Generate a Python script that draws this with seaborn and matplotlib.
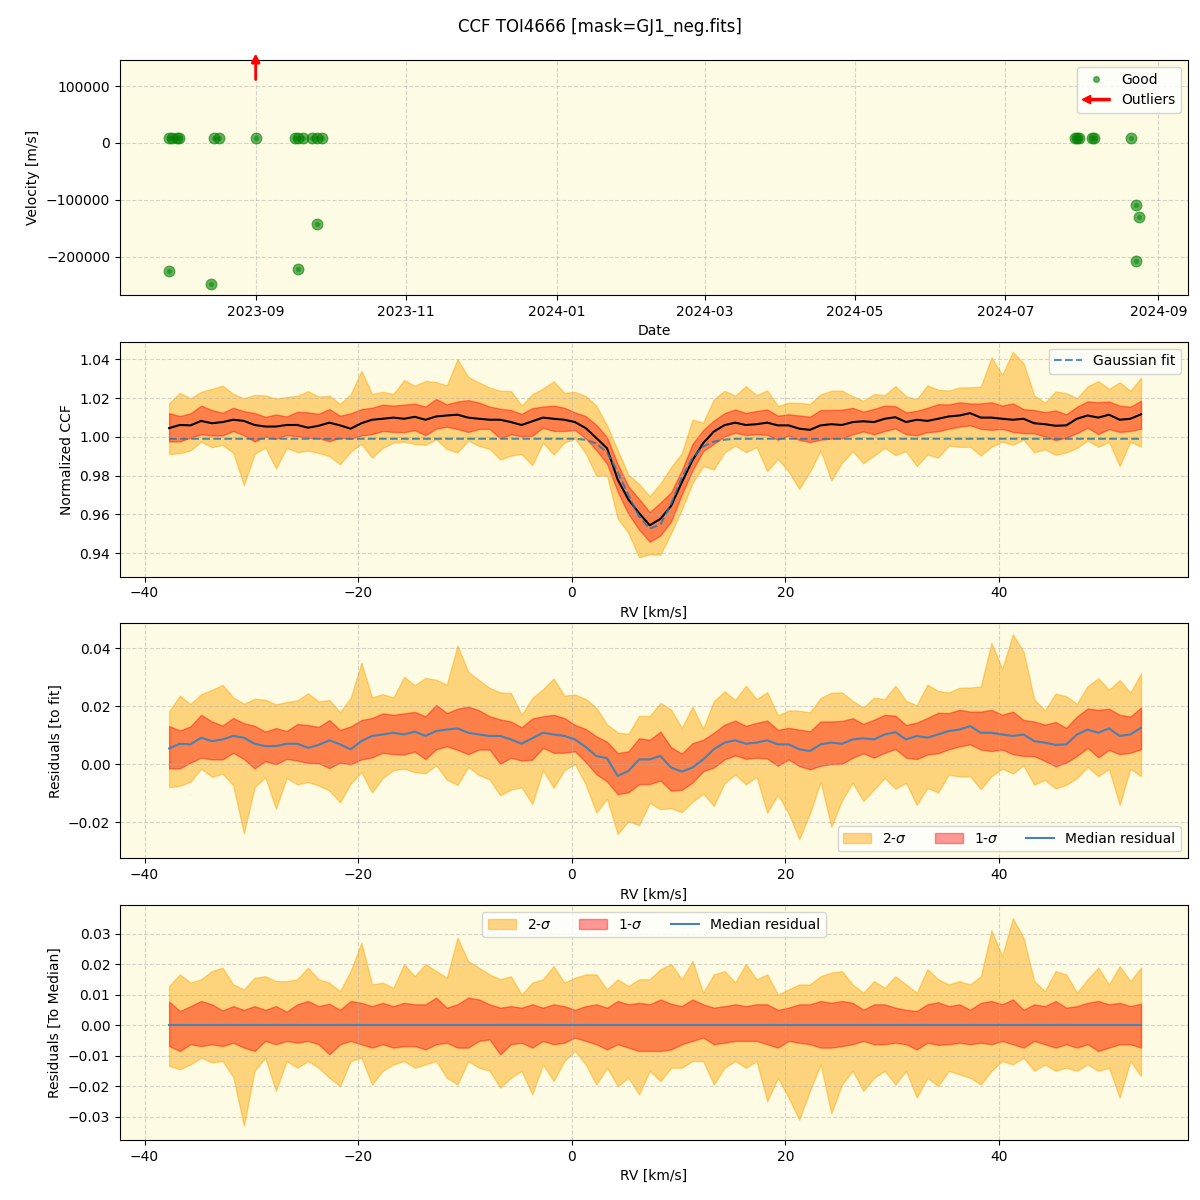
import numpy as np
import pandas as pd
import seaborn as sns
import matplotlib
matplotlib.use("Agg")
import matplotlib.pyplot as plt
import matplotlib.dates as mdates
from matplotlib.ticker import MultipleLocator
from matplotlib.patches import FancyArrow, Patch
from matplotlib.lines import Line2D
from matplotlib.legend_handler import HandlerPatch

# ---- time series (panel 1) ----
good_dates = ["2023-07-28", "2023-07-29", "2023-07-31", "2023-08-01", "2023-07-28",
              "2023-08-14", "2023-08-15", "2023-08-17", "2023-09-01", "2023-09-17",
              "2023-09-18", "2023-09-20", "2023-09-18", "2023-09-24", "2023-09-26",
              "2023-09-28", "2023-09-26", "2024-07-29", "2024-07-30", "2024-07-31",
              "2024-08-05", "2024-08-06", "2024-08-21", "2024-08-23", "2024-08-24",
              "2024-08-23"]
good_vel = [8500, 8200, 8600, 8300, -224600,
            -247900, 8400, 8100, 8200, 8300,
            8500, 8000, -221600, 8400, 8600,
            8300, -142600, 8400, 8200, 8500,
            8100, 8300, 8200, -108800, -130400,
            -207000]
outlier_dates = ["2023-09-01"]

# ---- CCF (panels 2-4) ----
rv = np.arange(-37.7, 53.35, 1.0)

fit = [0.999] * 39 + [0.9985, 0.9965, 0.992, 0.982, 0.970, 0.959, 0.9527,
                      0.9548, 0.9655, 0.979, 0.989, 0.995, 0.9975, 0.9985] + [0.999] * 39

resid_med = [0.0055, 0.0071, 0.0069, 0.0092, 0.0080, 0.0086, 0.0098, 0.0092, 0.0071, 0.0063,
             0.0063, 0.0071, 0.0071, 0.0057, 0.0067, 0.0083, 0.0069, 0.0052, 0.0080, 0.0098,
             0.0103, 0.0109, 0.0103, 0.0113, 0.0098, 0.0115, 0.0120, 0.0124, 0.0109, 0.0103,
             0.0098, 0.0098, 0.0086, 0.0071, 0.0090, 0.0109, 0.0103, 0.0098, 0.0086, 0.0060,
             0.0029, 0.0021, -0.0040, -0.0023, 0.0017, 0.0017, 0.0029, -0.0011, -0.0025, -0.0011,
             0.0017, 0.0052, 0.0075, 0.0083, 0.0071, 0.0075, 0.0083, 0.0069, 0.0069, 0.0052,
             0.0046, 0.0069, 0.0075, 0.0071, 0.0086, 0.0090, 0.0086, 0.0103, 0.0111, 0.0086,
             0.0098, 0.0092, 0.0103, 0.0115, 0.0120, 0.0132, 0.0109, 0.0109, 0.0103, 0.0098,
             0.0103, 0.0080, 0.0075, 0.0067, 0.0069, 0.0103, 0.0120, 0.0109, 0.0124, 0.0098,
             0.0103, 0.0126]

# band edges relative to the median CCF
hi2 = [0.0128, 0.0166, 0.0139, 0.0150, 0.0177, 0.0188, 0.0133, 0.0117, 0.0155, 0.0160,
       0.0144, 0.0144, 0.0150, 0.0188, 0.0150, 0.0139, 0.0111, 0.0177, 0.0270, 0.0133,
       0.0139, 0.0122, 0.0199, 0.0160, 0.0200, 0.0177, 0.0155, 0.0286, 0.0210, 0.0188,
       0.0166, 0.0150, 0.0160, 0.0100, 0.0139, 0.0150, 0.0193, 0.0139, 0.0155, 0.0166,
       0.0166, 0.0117, 0.0150, 0.0128, 0.0150, 0.0150, 0.0183, 0.0200, 0.0150, 0.0210,
       0.0106, 0.0166, 0.0177, 0.0139, 0.0200, 0.0150, 0.0166, 0.0100, 0.0117, 0.0133,
       0.0133, 0.0160, 0.0172, 0.0177, 0.0133, 0.0106, 0.0144, 0.0122, 0.0160, 0.0133,
       0.0106, 0.0183, 0.0150, 0.0133, 0.0144, 0.0133, 0.0160, 0.0310, 0.0226, 0.0350,
       0.0286, 0.0144, 0.0111, 0.0177, 0.0166, 0.0106, 0.0150, 0.0188, 0.0133, 0.0193,
       0.0144, 0.0188]
hi1 = [0.0077, 0.0046, 0.0062, 0.0079, 0.0068, 0.0048, 0.0062, 0.0050, 0.0062, 0.0050,
       0.0062, 0.0044, 0.0068, 0.0079, 0.0062, 0.0070, 0.0050, 0.0079, 0.0073, 0.0062,
       0.0073, 0.0062, 0.0073, 0.0068, 0.0068, 0.0090, 0.0057, 0.0068, 0.0090, 0.0084,
       0.0068, 0.0057, 0.0062, 0.0057, 0.0068, 0.0057, 0.0068, 0.0062, 0.0050, 0.0062,
       0.0068, 0.0057, 0.0079, 0.0068, 0.0073, 0.0068, 0.0084, 0.0070, 0.0062, 0.0084,
       0.0068, 0.0057, 0.0062, 0.0068, 0.0062, 0.0068, 0.0068, 0.0050, 0.0057, 0.0068,
       0.0068, 0.0079, 0.0073, 0.0079, 0.0073, 0.0050, 0.0068, 0.0068, 0.0057, 0.0050,
       0.0046, 0.0068, 0.0075, 0.0062, 0.0068, 0.0050, 0.0073, 0.0079, 0.0068, 0.0084,
       0.0050, 0.0068, 0.0062, 0.0079, 0.0057, 0.0062, 0.0073, 0.0079, 0.0068, 0.0073,
       0.0062, 0.0070]
lo1 = [-0.0069, -0.0085, -0.0063, -0.0069, -0.0063, -0.0069, -0.0058, -0.0074, -0.0085, -0.0052,
       -0.0063, -0.0052, -0.0058, -0.0052, -0.0063, -0.0096, -0.0063, -0.0052, -0.0063, -0.0074,
       -0.0063, -0.0074, -0.0069, -0.0069, -0.0080, -0.0063, -0.0058, -0.0074, -0.0074, -0.0052,
       -0.0047, -0.0096, -0.0063, -0.0058, -0.0074, -0.0052, -0.0063, -0.0058, -0.0041, -0.0052,
       -0.0063, -0.0080, -0.0063, -0.0074, -0.0085, -0.0085, -0.0085, -0.0080, -0.0063, -0.0052,
       -0.0041, -0.0063, -0.0058, -0.0052, -0.0052, -0.0052, -0.0063, -0.0074, -0.0052, -0.0058,
       -0.0063, -0.0074, -0.0074, -0.0069, -0.0063, -0.0052, -0.0063, -0.0063, -0.0058, -0.0063,
       -0.0080, -0.0058, -0.0065, -0.0063, -0.0058, -0.0063, -0.0058, -0.0063, -0.0052, -0.0063,
       -0.0074, -0.0052, -0.0063, -0.0074, -0.0063, -0.0074, -0.0063, -0.0085, -0.0074, -0.0063,
       -0.0063, -0.0074]
lo2 = [-0.0134, -0.0145, -0.0129, -0.0107, -0.0123, -0.0118, -0.0170, -0.0330, -0.0150, -0.0107,
       -0.0216, -0.0118, -0.0140, -0.0118, -0.0140, -0.0173, -0.0200, -0.0118, -0.0107, -0.0195,
       -0.0150, -0.0129, -0.0118, -0.0140, -0.0129, -0.0118, -0.0173, -0.0195, -0.0118, -0.0140,
       -0.0150, -0.0205, -0.0173, -0.0150, -0.0227, -0.0129, -0.0184, -0.0118, -0.0085, -0.0129,
       -0.0195, -0.0140, -0.0200, -0.0173, -0.0227, -0.0150, -0.0184, -0.0140, -0.0140, -0.0118,
       -0.0118, -0.0195, -0.0140, -0.0118, -0.0140, -0.0118, -0.0250, -0.0173, -0.0238, -0.0310,
       -0.0216, -0.0129, -0.0290, -0.0195, -0.0150, -0.0216, -0.0173, -0.0150, -0.0195, -0.0150,
       -0.0238, -0.0173, -0.0200, -0.0150, -0.0162, -0.0173, -0.0195, -0.0150, -0.0118, -0.0129,
       -0.0107, -0.0150, -0.0129, -0.0150, -0.0140, -0.0150, -0.0129, -0.0150, -0.0140, -0.0238,
       -0.0118, -0.0167]

fit = np.array(fit)
resid_med = np.array(resid_med)
ccf_med = fit + resid_med
hi2, hi1, lo1, lo2 = map(np.array, (hi2, hi1, lo1, lo2))

BG = "#fdfbe3"


class ArrowHandler(HandlerPatch):
    def create_artists(self, legend, orig_handle, xdescent, ydescent,
                       width, height, fontsize, trans):
        a = FancyArrow(width - xdescent, 0.5 * height - ydescent, -width, 0,
                       width=1.6, head_width=6, head_length=6,
                       length_includes_head=True, color="red")
        a.set_transform(trans)
        return [a]


fig, axes = plt.subplots(4, 1, figsize=(12, 12), dpi=100)
fig.subplots_adjust(left=0.1, right=0.99, top=0.95, bottom=0.05, hspace=0.2)
fig.suptitle("CCF TOI4666 [mask=GJ1_neg.fits]", fontsize=12, y=0.985)

# ---- panel 1 ----
ax = axes[0]
ax.set_facecolor(BG)
gd = pd.to_datetime(good_dates)
sns.scatterplot(x=gd, y=good_vel, color="green", s=60, alpha=0.6,
                edgecolor="green", linewidth=0.8, ax=ax, zorder=3)
sns.scatterplot(x=gd, y=good_vel, color="green", s=14, alpha=0.5,
                linewidth=0, ax=ax, zorder=4)
for d in pd.to_datetime(outlier_dates):
    xd = mdates.date2num(d)
    ax.annotate("", xy=(xd, 1.04), xycoords=("data", "axes fraction"),
                xytext=(xd, 0.905), textcoords=("data", "axes fraction"),
                arrowprops=dict(arrowstyle="-|>", color="red", lw=2, mutation_scale=12),
                annotation_clip=False)
ax.set_xlim(pd.Timestamp("2023-07-08"), pd.Timestamp("2024-09-13"))
ax.set_ylim(-267000, 146000)
ax.yaxis.set_major_locator(MultipleLocator(100000))
ax.ticklabel_format(axis="y", style="plain")
ax.xaxis.set_major_locator(mdates.MonthLocator(bymonth=[1, 3, 5, 7, 9, 11]))
ax.xaxis.set_major_formatter(mdates.DateFormatter("%Y-%m"))
ax.set_xlabel("Date")
ax.set_ylabel("Velocity [m/s]")
ax.grid(True, linestyle="--", alpha=0.5)
h_good = Line2D([], [], marker="o", linestyle="None", color="green",
                alpha=0.6, markersize=4)
h_out = FancyArrow(0, 0, 1, 0, color="red")
ax.legend([h_good, h_out], ["Good", "Outliers"], loc="upper right",
          handler_map={FancyArrow: ArrowHandler()})

# ---- panel 2 ----
ax = axes[1]
ax.set_facecolor(BG)
ax.fill_between(rv, ccf_med + lo2, ccf_med + hi2, color="orange", alpha=0.45)
ax.fill_between(rv, ccf_med + lo1, ccf_med + hi1, color="red", alpha=0.4)
sns.lineplot(x=rv, y=ccf_med, color="black", linewidth=1.5, ax=ax)
sns.lineplot(x=rv, y=fit, color="C0", linestyle="--", alpha=0.8,
             linewidth=1.5, ax=ax, label="Gaussian fit")
ax.set_ylim(0.928, 1.049)
ax.set_xlabel("RV [km/s]")
ax.set_ylabel("Normalized CCF")
ax.grid(True, linestyle="--", alpha=0.5)
ax.legend(loc="upper right")

# ---- panel 3 ----
ax = axes[2]
ax.set_facecolor(BG)
ax.fill_between(rv, resid_med + lo2, resid_med + hi2, color="orange", alpha=0.45,
                label=r"2-$\sigma$")
ax.fill_between(rv, resid_med + lo1, resid_med + hi1, color="red", alpha=0.4,
                label=r"1-$\sigma$")
sns.lineplot(x=rv, y=resid_med, color="steelblue", linewidth=1.5, ax=ax,
             label="Median residual")
ax.set_ylim(-0.0324, 0.0486)
ax.set_xlabel("RV [km/s]")
ax.set_ylabel("Residuals [to fit]")
ax.grid(True, linestyle="--", alpha=0.5)
ax.legend(loc="lower right", ncol=3)

# ---- panel 4 ----
ax = axes[3]
ax.set_facecolor(BG)
ax.fill_between(rv, lo2, hi2, color="orange", alpha=0.45, label=r"2-$\sigma$")
ax.fill_between(rv, lo1, hi1, color="red", alpha=0.4, label=r"1-$\sigma$")
sns.lineplot(x=rv, y=np.zeros_like(rv), color="steelblue", linewidth=1.5, ax=ax,
             label="Median residual")
ax.set_ylim(-0.0377, 0.0393)
ax.set_xlabel("RV [km/s]")
ax.set_ylabel("Residuals [To Median]")
ax.grid(True, linestyle="--", alpha=0.5)
ax.legend(loc="upper center", ncol=3)

for ax in axes[1:]:
    ax.set_xlim(-42.3, 57.7)

fig.savefig("out.png", dpi=100)
